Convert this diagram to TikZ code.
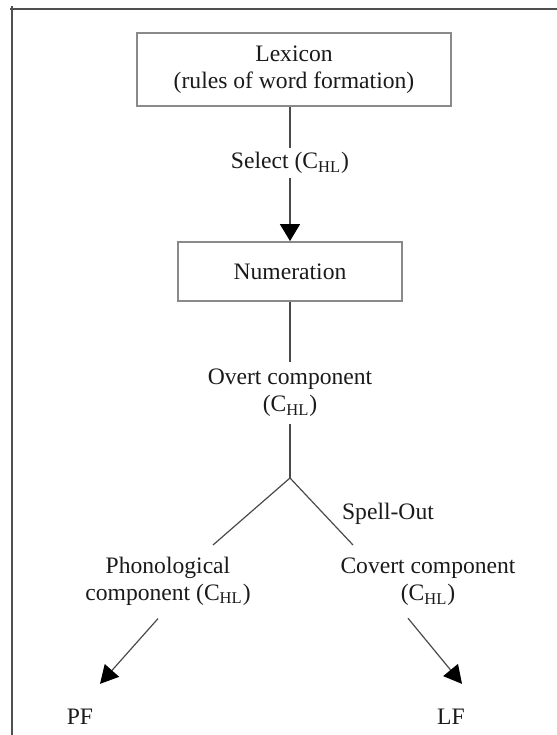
\documentclass[tikz,border=0pt]{standalone}
\usepackage{fontspec}
\setmainfont{Liberation Serif}
\usetikzlibrary{positioning, calc, arrows.meta}
\definecolor{Ink}{HTML}{1A1A1A}
\definecolor{Wire}{HTML}{4A4A4A}
\definecolor{Edge}{HTML}{8A8A8A}
\definecolor{Frame}{HTML}{505050}
\tikzset{
    txt/.style={text=Ink, align=center, inner sep=2pt, font=\fontsize{11.8}{13.5}\selectfont},
    boxnode/.style={txt, rectangle, draw=Edge, line width=0.9pt},
    wire/.style={draw=Wire, line width=0.6pt},
    arrow/.style={wire, -{Triangle[length=8.5pt, width=10pt, color=black]}},
    slantarrow/.style={wire, -{Triangle[length=9pt, width=9.5pt, color=black]}},
    frameline/.style={draw=Frame, line width=1pt},
}
\begin{document}
\begin{tikzpicture}[x=0.5pt, y=-0.5pt]
                \useasboundingbox (0,0) rectangle (557,735);
                % Cornice
                \draw[frameline] (12,735) -- (12,6);
                \draw[frameline] (10,9) -- (557,9);

                % Lessico e numerazione
                \node[boxnode, minimum width=157pt, minimum height=36.5pt] (lexicon) at (294,69.5)
                    {Lexicon\\(rules of word formation)};
                \node[txt] (select) at (290,163) {Select (C\textsubscript{HL})};
                \node[boxnode, minimum width=112pt, minimum height=29.5pt] (numeration) at (290,271.5)
                    {Numeration};
                \node[txt, inner sep=3.5pt] (overt) at (290,393) {Overt component\\(C\textsubscript{HL})};
                \coordinate (split) at (290,478);

                % Ramificazione
                \coordinate (lbranch) at (213,545);
                \coordinate (rbranch) at (353,545);
                \node[txt] (spellout) at (388,514) {Spell-Out};
                \node[txt] (phon) at (168,581) {Phonological\\component (C\textsubscript{HL})};
                \node[txt] (covert) at (428,582) {Covert component\\(C\textsubscript{HL})};
                \node[txt] (pf) at (80,717) {PF};
                \node[txt] (lf) at (451,717) {LF};

                % Collegamenti
                \draw[wire] (lexicon.south -| select) -- (select.north);
                \draw[arrow] (select.south) -- (numeration.north);
                \draw[wire] (numeration.south) -- (overt.north);
                \draw[wire] (overt.south) -- (split);
                \draw[wire] (lbranch) -- (split) -- (rbranch);
                \draw[slantarrow] ([shift={(-10,9)}]phon.south) -- ([shift={(20,-21)}]pf.north);
                \draw[slantarrow] ([shift={(-20,8)}]covert.south) -- ([shift={(11,-21)}]lf.north);
            \end{tikzpicture}
\end{document}
